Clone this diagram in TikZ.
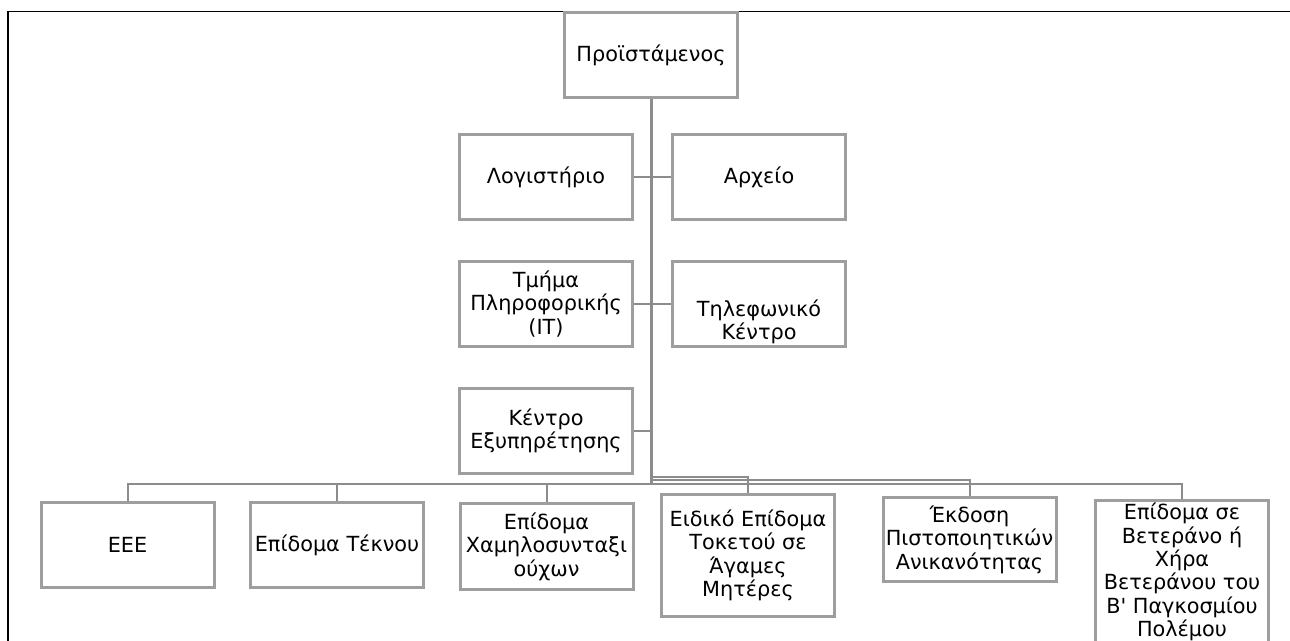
\documentclass[tikz,border=0pt]{standalone}
\usepackage{fontspec}
\newfontfamily\dvsans{DejaVu Sans}
\usetikzlibrary{positioning}

\tikzset{
	unit/.style={draw=black!38, line width=1.5pt, fill=white,
		minimum width=86.5pt, minimum height=42.5pt,
		inner xsep=0pt, inner ysep=1pt, align=center,
		font=\dvsans\fontsize{10.4pt}{11.7pt}\selectfont},
	caption/.style={align=center, inner sep=0pt,
		font=\dvsans\fontsize{10.4pt}{11.7pt}\selectfont},
	trunk/.style={draw=black!45, line width=1.5pt},
	link/.style={draw=black!45, line width=1pt},
	frame/.style={draw=black, line width=0.8pt},
}

\begin{document}
\begin{tikzpicture}[x=0.5pt, y=-0.5pt, node distance=19.5pt and 18.5pt]
		\useasboundingbox (0,0) rectangle (1290,641);
		\clip (0,0) rectangle (1290,641);
		\draw[frame] (8,641) -- (8,11.5) -- (1290,11.5);

		\node[unit] (boss) at (651,55.5) {Προϊστάμενος};
		\node[unit] (acc) at (546,177) {Λογιστήριο};
		\node[unit, right=of acc] (arch) {Αρχείο};
		\node[unit, below=of acc] (it) {Τμήμα\\Πληροφορικής\\(IT)};
		\node[unit, right=of it] (tel) {};
		\node[caption] (telTxt) at ([yshift=-9pt]tel.center) {Τηλεφωνικό\\Κέντρο};
		\node[unit, below=of it] (serv) {Κέντρο\\Εξυπηρέτησης};

		\node[unit] (eee) at (127.5,545) {ΕΕΕ};
		\node[unit] (child) at (337,545) {Επίδομα Τέκνου};
		\node[unit, minimum height=43pt] (pens) at (546.5,546.5) {Επίδομα\\Χαμηλοσυνταξι\\ούχων};
		\node[unit, minimum height=61pt] (single) at (748,555.5) {Ειδικό Επίδομα\\Τοκετού σε\\Άγαμες\\Μητέρες};
		\node[unit, minimum height=42pt] (cert) at (969.5,539.5) {Έκδοση\\Πιστοποιητικών\\Ανικανότητας};
		\node[unit, minimum height=71.5pt] (vet) at (1182,572) {Επίδομα σε\\Βετεράνο ή\\Χήρα\\Βετεράνου του\\Β\textquotesingle\ Παγκοσμίου\\Πολέμου};

		\coordinate (hub) at (651,484);
		\coordinate (hubA) at (651,476.5);
		\coordinate (hubB) at (651,479.5);

		\draw[trunk] (boss) -- (hub);
		\draw[link] (acc) -- (arch);
		\draw[link] (it) -- (tel);
		\draw[link] (serv.east) -- (serv.east -| hub);
		\draw[link] (hub) -| (eee);
		\draw[link] (hub) -| (child);
		\draw[link] (hub) -| (pens);
		\draw[link] (hubA) -| (single);
		\draw[link] (hubB) -| (cert);
		\draw[link] (hub) -| (vet);
	\end{tikzpicture}
\end{document}
